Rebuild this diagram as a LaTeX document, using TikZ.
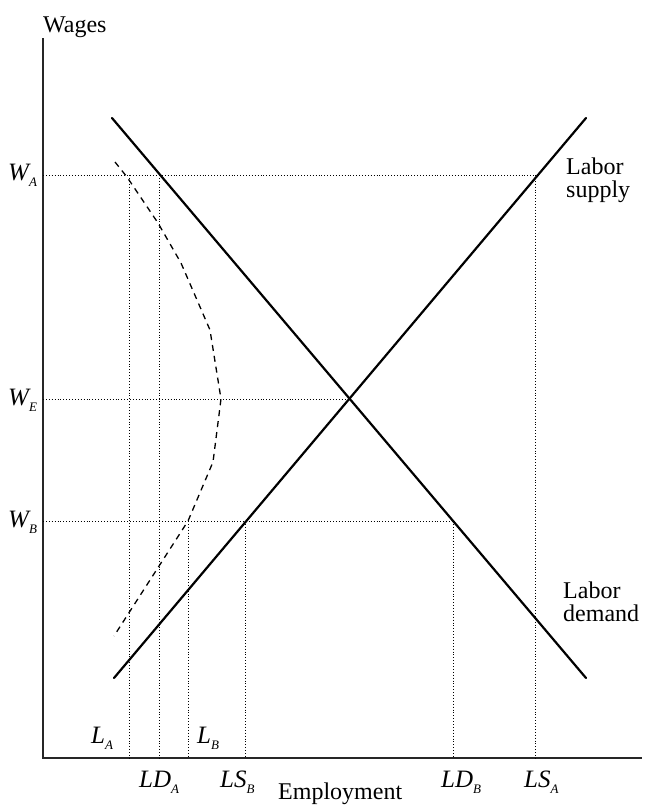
\documentclass[tikz,border=0pt]{standalone}
\usepackage{fontspec}
\setmainfont{Liberation Serif}
\newcommand{\lab}[2]{{\itshape #1}\raisebox{-6.5pt}{\fontsize{13}{13}\selectfont\itshape #2}}
\begin{document}
\begin{tikzpicture}[x=1pt,y=-1pt,
  axis/.style={line width=1.6pt,draw=black!85},
  curve/.style={line width=2.2pt,line cap=round},
  guide/.style={line width=0.9pt,dotted},
  dashcurve/.style={line width=1.3pt,dash pattern=on 6pt off 5pt},
  txt/.style={font=\fontsize{24}{23}\selectfont,inner sep=0pt},
  itxt/.style={font=\fontsize{25}{27}\selectfont,inner sep=0pt}]
\useasboundingbox (0,0) rectangle (646,806);
% axes
\coordinate (O) at (43,758);
\coordinate (Ytop) at (43,38);
\coordinate (Xend) at (642,758);
\draw[axis] (Ytop) -- (O) -- (Xend);
% curves
\coordinate (D1) at (112,118);
\coordinate (D2) at (586,678);
\coordinate (S1) at (114,678);
\coordinate (S2) at (586,118);
\draw[curve] (D1) -- (D2);
\draw[curve] (S1) -- (S2);
% wage levels
\coordinate (WA) at (43,175);
\coordinate (WE) at (43,399);
\coordinate (WB) at (43,521);
\coordinate (LSAt) at (535,175);
\coordinate (Eq) at (350,399);
\coordinate (LDBt) at (453,521);
\draw[guide] (WA) -- (LSAt);
\draw[guide] (WE) -- (Eq);
\draw[guide] (WB) -- (LDBt);
% verticals
\coordinate (LAt) at (129,175);   \coordinate (LAb) at (129,758);
\coordinate (LDAt) at (159,175);  \coordinate (LDAb) at (159,758);
\coordinate (LBt) at (188,521);   \coordinate (LBb) at (188,758);
\coordinate (LSBt) at (245,521);  \coordinate (LSBb) at (245,758);
\coordinate (LDBb) at (453,758);
\coordinate (LSAb) at (535,758);
\draw[guide] (LAt) -- (LAb);
\draw[guide] (LDAt) -- (LDAb);
\draw[guide] (LBt) -- (LBb);
\draw[guide] (LSBt) -- (LSBb);
\draw[guide] (LDBt) -- (LDBb);
\draw[guide] (LSAt) -- (LSAb);
% dashed employment curve
\draw[dashcurve] (115,162) -- (127,177) -- (158,223) -- (181,263) -- (210,330)
  -- (221,399) -- (213,462) -- (188,521) -- (114,636);
% labels
\node[txt,anchor=base west] (wages) at (43,32) {Wages};
\node[itxt,anchor=base west] (lWA) at (8,180) {\lab{W}{A}};
\node[itxt,anchor=base west] (lWE) at (8,405) {\lab{W}{E}};
\node[itxt,anchor=base west] (lWB) at (8,527) {\lab{W}{B}};
\node[itxt,anchor=base west] (lLA) at (91,743) {\lab{L}{A}};
\node[itxt,anchor=base west] (lLB) at (197,743) {\lab{L}{B}};
\node[itxt,anchor=base west] (lLDA) at (139,787) {\lab{LD}{A}};
\node[itxt,anchor=base west] (lLSB) at (220,787) {\lab{LS}{B}};
\node[itxt,anchor=base west] (lLDB) at (441,787) {\lab{LD}{B}};
\node[itxt,anchor=base west] (lLSA) at (524,787) {\lab{LS}{A}};
\node[txt,anchor=base west] (emp) at (278,799) {Employment};
\node[txt,anchor=base west,align=left] (ls) at (566,197) {Labor\\supply};
\node[txt,anchor=base west,align=left] (ld) at (563,621) {Labor\\demand};
\end{tikzpicture}
\end{document}
